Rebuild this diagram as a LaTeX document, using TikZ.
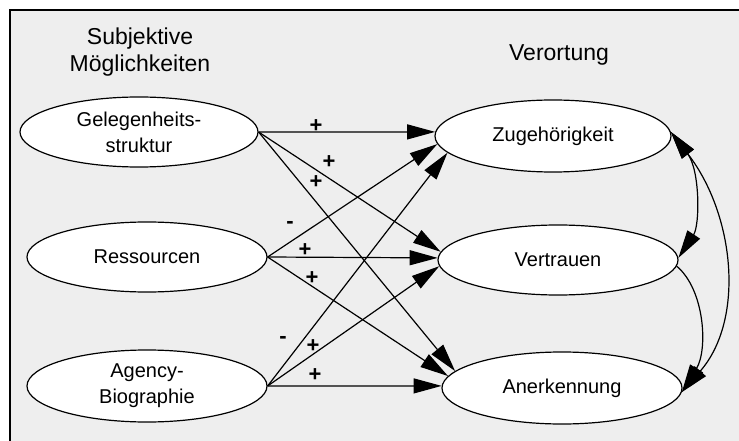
\documentclass[tikz,border=0pt]{standalone}
\usepackage{fontspec}
\setmainfont{Liberation Sans}
\usetikzlibrary{shapes.geometric,arrows.meta}
\definecolor{bg}{HTML}{EEEEEE}
\begin{document}
\begin{tikzpicture}[x=1pt,y=-1pt,
  oval/.style={ellipse,draw,fill=white,line width=1.2pt,inner sep=0pt,minimum width=240pt,minimum height=70pt,align=center,font=\fontsize{20}{26}\selectfont},
  conn/.style={line width=1.2pt,-{Triangle[length=28pt,width=15pt]}},
  dconn/.style={line width=1.2pt,{Triangle[length=28pt,width=15pt]}-{Triangle[length=28pt,width=15pt]}},
  sign/.style={font=\fontsize{22}{22}\selectfont\bfseries,inner sep=0pt},
  title/.style={align=center,font=\fontsize{23}{27}\selectfont}]
\useasboundingbox (0,0) rectangle (739,441);
\fill[bg] (10,10) rectangle (739,441);
\draw[line width=1.2pt] (10,441) -- (10,10) -- (739,10);

\node[title] (t1) at (140,52) {Subjektive\\Möglichkeiten};
\node[title] (t2) at (559,55) {Verortung};

\node[oval,minimum width=238pt] (gel) at (139,132) {Gelegenheits-\\struktur};
\node[oval] (res) at (147,257) {Ressourcen};
\node[oval,minimum height=72pt] (age) at (147,386) {Agency-\\Biographie};
\node[oval,minimum width=236pt,minimum height=72pt] (zug) at (553,136) {Zugehörigkeit};
\node[oval] (ver) at (558,260) {Vertrauen};
\node[oval,minimum height=72pt] (ane) at (562,388) {Anerkennung};

\draw[conn] (gel.east) -- (zug.178);
\draw[conn] (gel.east) -- (ver.176);
\draw[conn] (gel.east) -- (ane.171);
\draw[conn] (res.east) -- (zug.184.4);
\draw[conn] (res.east) -- (ver.179);
\draw[conn] (res.east) -- (ane.174.7);
\draw[conn] (age.east) -- (zug.189.7);
\draw[conn] (age.east) -- (ver.183.3);
\draw[conn] (age.east) -- (ane.179);

\draw[dconn] (zug.2) .. controls (700,170) and (700,225) .. (ver.1);
\draw[dconn] (zug.2) .. controls (735,215) and (745,320) .. (ane.358);
\draw[conn] (ver.357) .. controls (705,290) and (708,350) .. (ane.358);

\node[sign] (s1) at (316,126) {+};
\node[sign] (s2) at (329,162) {+};
\node[sign] (s3) at (316,182) {+};
\node[sign] (s4) at (290,225) {-};
\node[sign] (s5) at (305,250) {+};
\node[sign] (s6) at (312,278) {+};
\node[sign] (s7) at (283,340) {-};
\node[sign] (s8) at (313,346) {+};
\node[sign] (s9) at (315,375) {+};
\end{tikzpicture}
\end{document}
